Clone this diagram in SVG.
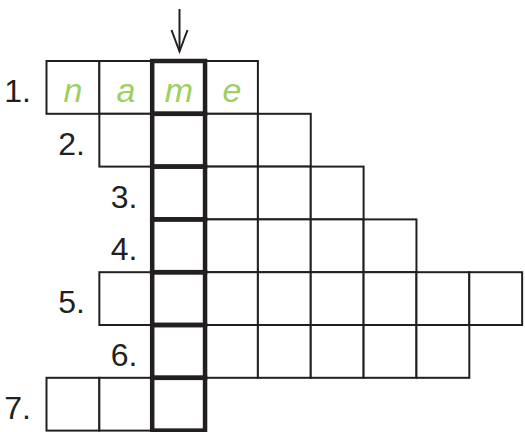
<svg xmlns="http://www.w3.org/2000/svg" width="525" height="432" viewBox="0 0 525 432">
<style>
.cell{fill:#fff;stroke:#231f20;stroke-width:2}
.key{fill:none;stroke:#231f20;stroke-width:4.5}
.num{font-family:"Liberation Sans",Arial,sans-serif;font-size:32px;fill:#231f20;text-anchor:end}
.ans{font-family:"Liberation Sans",Arial,sans-serif;font-size:34px;font-style:italic;fill:#9dcf62;text-anchor:middle}
.arrow{fill:none;stroke:#231f20;stroke-width:2}
</style>
<rect width="525" height="432" fill="#fff"/>
<g id="row1">
<rect class="cell" x="46.5" y="61" width="52.85" height="52.8"/>
<rect class="cell" x="99.35" y="61" width="52.85" height="52.8"/>
<rect class="cell" x="152.2" y="61" width="52.85" height="52.8"/>
<rect class="cell" x="205.05" y="61" width="52.85" height="52.8"/>
<text class="num" x="31" y="101.5">1.</text>
<text class="ans" x="73" y="101.5">n</text>
<text class="ans" x="126" y="101.5">a</text>
<text class="ans" x="179" y="101.5">m</text>
<text class="ans" x="232" y="101.5">e</text>
</g>
<g id="row2">
<rect class="cell" x="99.35" y="113.8" width="52.85" height="52.8"/>
<rect class="cell" x="152.2" y="113.8" width="52.85" height="52.8"/>
<rect class="cell" x="205.05" y="113.8" width="52.85" height="52.8"/>
<rect class="cell" x="257.9" y="113.8" width="52.85" height="52.8"/>
<text class="num" x="85" y="154.5">2.</text>
</g>
<g id="row3">
<rect class="cell" x="152.2" y="166.6" width="52.85" height="52.8"/>
<rect class="cell" x="205.05" y="166.6" width="52.85" height="52.8"/>
<rect class="cell" x="257.9" y="166.6" width="52.85" height="52.8"/>
<rect class="cell" x="310.75" y="166.6" width="52.85" height="52.8"/>
<text class="num" x="137.5" y="207.5">3.</text>
</g>
<g id="row4">
<rect class="cell" x="152.2" y="219.4" width="52.85" height="52.8"/>
<rect class="cell" x="205.05" y="219.4" width="52.85" height="52.8"/>
<rect class="cell" x="257.9" y="219.4" width="52.85" height="52.8"/>
<rect class="cell" x="310.75" y="219.4" width="52.85" height="52.8"/>
<rect class="cell" x="363.6" y="219.4" width="52.85" height="52.8"/>
<text class="num" x="137.5" y="260">4.</text>
</g>
<g id="row5">
<rect class="cell" x="99.35" y="272.2" width="52.85" height="52.8"/>
<rect class="cell" x="152.2" y="272.2" width="52.85" height="52.8"/>
<rect class="cell" x="205.05" y="272.2" width="52.85" height="52.8"/>
<rect class="cell" x="257.9" y="272.2" width="52.85" height="52.8"/>
<rect class="cell" x="310.75" y="272.2" width="52.85" height="52.8"/>
<rect class="cell" x="363.6" y="272.2" width="52.85" height="52.8"/>
<rect class="cell" x="416.45" y="272.2" width="52.85" height="52.8"/>
<rect class="cell" x="469.3" y="272.2" width="52.85" height="52.8"/>
<text class="num" x="85" y="313">5.</text>
</g>
<g id="row6">
<rect class="cell" x="152.2" y="325" width="52.85" height="52.8"/>
<rect class="cell" x="205.05" y="325" width="52.85" height="52.8"/>
<rect class="cell" x="257.9" y="325" width="52.85" height="52.8"/>
<rect class="cell" x="310.75" y="325" width="52.85" height="52.8"/>
<rect class="cell" x="363.6" y="325" width="52.85" height="52.8"/>
<rect class="cell" x="416.45" y="325" width="52.85" height="52.8"/>
<text class="num" x="137.5" y="366">6.</text>
</g>
<g id="row7">
<rect class="cell" x="46.5" y="377.8" width="52.85" height="52.8"/>
<rect class="cell" x="99.35" y="377.8" width="52.85" height="52.8"/>
<rect class="cell" x="152.2" y="377.8" width="52.85" height="52.8"/>
<text class="num" x="31" y="418.5">7.</text>
</g>
<g id="key-column">
<rect class="key" x="152.2" y="61" width="52.85" height="52.8"/>
<rect class="key" x="152.2" y="113.8" width="52.85" height="52.8"/>
<rect class="key" x="152.2" y="166.6" width="52.85" height="52.8"/>
<rect class="key" x="152.2" y="219.4" width="52.85" height="52.8"/>
<rect class="key" x="152.2" y="272.2" width="52.85" height="52.8"/>
<rect class="key" x="152.2" y="325" width="52.85" height="52.8"/>
<rect class="key" x="152.2" y="377.8" width="52.85" height="52.8"/>
</g>
<g id="connectors">
<line class="arrow" x1="179.5" y1="9" x2="179.5" y2="51"/>
<polyline class="arrow" points="171.5,30 179.5,51.5 187.5,30"/>
</g>
</svg>
